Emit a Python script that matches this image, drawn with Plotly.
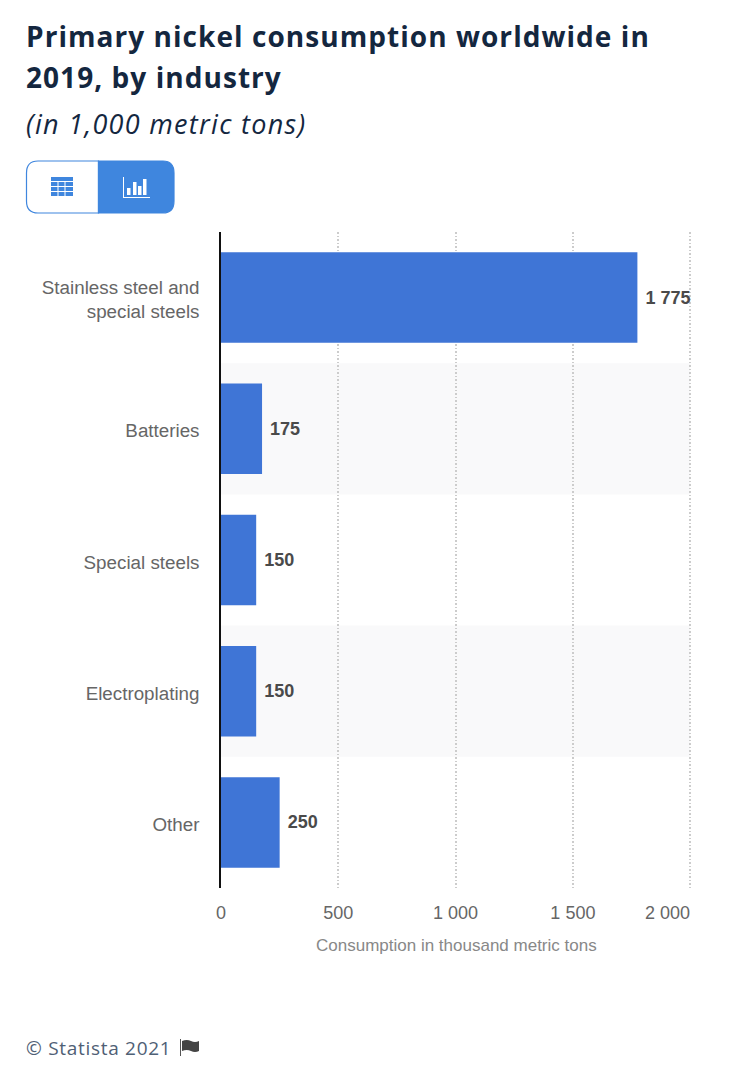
import plotly.graph_objects as go

W, H = 750, 1074
L, R, T, B = 221, 693, 232, 888

categories = ["Stainless steel and<br>special steels", "Batteries", "Special steels", "Electroplating", "Other"]
values = [1775, 175, 150, 150, 250]
x_ticks = [0, 500, 1000, 1500, 2000]
x_labels = ["0", "500", "1 000", "1 500", ""]
last_tick_label = "2 000"

BLUE = "#3f75d6"
BTN_BLUE = "#3f86de"
GREY = "#666666"

# plotly has no letter spacing option, so it is set on the svg after drawing
POST_SCRIPT = """
document.body.style.margin = '0';
var spacing = {0: 1.05, 1: 1.05, 2: 1.3, 3: 0.7};
function spaceTitles() {
  document.querySelectorAll('.annotation').forEach(function (a) {
    var s = spacing[a.getAttribute('data-index')];
    if (s) { a.querySelector('text').style.letterSpacing = s + 'px'; }
  });
}
spaceTitles();
setTimeout(spaceTitles, 100);
"""


# the page furniture is laid out in screen pixels, so convert to paper coords
def L_paper(x):
    return (x - L) / (R - L)


def T_paper(y):
    return (B - y) / (B - T)


def pth(points):
    out = []
    for cmd, *xy in points:
        s = cmd
        for i in range(0, len(xy), 2):
            s += f" {L_paper(xy[i]):.5f},{T_paper(xy[i + 1]):.5f}"
        out.append(s)
    return " ".join(out)


def rect(x0, y0, x1, y1, **kw):
    return dict(type="rect", xref="paper", yref="paper", x0=L_paper(x0), x1=L_paper(x1),
                y0=T_paper(y0), y1=T_paper(y1), line_width=0, **kw)


def text(x, y, s, size, color, family="Open Sans", anchor="left", **font):
    return dict(xref="paper", yref="paper", x=L_paper(x), y=T_paper(y), text=s, showarrow=False,
                xanchor=anchor, yanchor="middle", align="left",
                font=dict(family=family, size=size, color=color, **font))


fig = go.Figure(go.Bar(
    x=values,
    y=categories,
    orientation="h",
    width=0.69,
    marker=dict(color=BLUE, line_width=0),
    texttemplate="\u00a0%{x:,}",
    textposition="outside",
    cliponaxis=False,
    textfont=dict(family="Liberation Sans", size=18, color="#4a4a4a", weight="bold"),
))

shapes = []
# alternate row shading
for i in [1, 3]:
    shapes.append(dict(type="rect", layer="below", xref="x", yref="y", x0=0, x1=2000,
                       y0=i - 0.5, y1=i + 0.5, fillcolor="#f9f9fa", line_width=0))

# toggle buttons
shapes.append(dict(
    type="path", xref="paper", yref="paper", line=dict(color=BTN_BLUE, width=1.2), fillcolor="white",
    path=pth([("M", 98.5, 161), ("L", 38, 161), ("Q", 26.5, 161, 26.5, 173), ("L", 26.5, 201),
              ("Q", 26.5, 213, 38, 213), ("L", 98.5, 213), ("Z",)]),
))
shapes.append(dict(
    type="path", xref="paper", yref="paper", line=dict(color=BTN_BLUE, width=1.2), fillcolor=BTN_BLUE,
    path=pth([("M", 98.5, 161), ("L", 163, 161), ("Q", 174, 161, 174, 173), ("L", 174, 201),
              ("Q", 174, 213, 163, 213), ("L", 98.5, 213), ("Z",)]),
))
# table icon
shapes.append(rect(51, 177, 73, 196, fillcolor=BTN_BLUE))
for gx in [57.5, 64.5]:
    shapes.append(rect(gx, 181, gx + 1, 196, fillcolor="white"))
for gy in [181, 186, 191]:
    shapes.append(rect(51, gy, 73, gy + 1, fillcolor="white"))
# bar icon
shapes.append(rect(123, 177, 124, 198, fillcolor="white"))
shapes.append(rect(123, 197, 150, 198, fillcolor="white"))
for bx, by in [(127, 188), (133, 182), (138, 186), (143, 179)]:
    shapes.append(rect(bx, by, bx + 3.5, 195, fillcolor="white"))
# flag
shapes.append(rect(180, 1039, 181, 1056, fillcolor="#555555"))
shapes.append(dict(
    type="path", xref="paper", yref="paper", line_width=0, fillcolor="#444444",
    path=pth([("M", 182, 1041), ("Q", 187, 1039, 191, 1041), ("Q", 195, 1043, 199, 1041),
              ("L", 199, 1051), ("Q", 195, 1053, 191, 1051), ("Q", 187, 1049, 182, 1051), ("Z",)]),
))

annotations = [
    text(24, 36.5, "Primary nickel consumption worldwide in", 28, "#14273f", weight="bold"),
    text(24, 76.5, "2019, by industry", 28, "#14273f", weight="bold"),
    text(24, 123.5, "(in 1,000 metric tons)", 27, "#14273f", style="italic"),
    text(24, 1047.5, "© Statista 2021", 19, "#4f6075"),
    text(456, 945.5, "Consumption in thousand metric tons", 17, "#888888", "Liberation Sans", "center"),
    dict(xref="x", yref="paper", x=2000, y=T_paper(912.5), text=last_tick_label, showarrow=False,
         xanchor="right", yanchor="middle", xshift=2,
         font=dict(family="Liberation Sans", size=18, color=GREY)),
]

fig.update_layout(
    width=W,
    height=H,
    margin=dict(l=L, r=W - R, t=T, b=H - B, pad=0),
    paper_bgcolor="white",
    plot_bgcolor="white",
    showlegend=False,
    separators=". ",
    shapes=shapes,
    annotations=annotations,
    font=dict(family="Liberation Sans", color=GREY),
)
fig.update_xaxes(
    # a little past 2000, otherwise plotly drops the gridline at the plot edge
    range=[0, 2012],
    tickmode="array",
    tickvals=x_ticks,
    ticktext=x_labels,
    tickfont=dict(size=18, color=GREY),
    ticks="",
    ticklabelstandoff=12,
    showgrid=True,
    gridcolor="#cccccc",
    griddash="1.5px,2px",
    gridwidth=1.5,
    zeroline=False,
    showline=False,
)
fig.update_yaxes(
    type="category",
    categoryorder="array",
    categoryarray=categories,
    autorange="reversed",
    showgrid=False,
    zeroline=False,
    showline=True,
    linecolor="#111111",
    linewidth=1.5,
    ticks="",
    ticklabelstandoff=16,
    ticklabelshift=-2,
    tickfont=dict(size=18.8, color=GREY),
)

fig.write_html("out.html", config={"displayModeBar": False}, post_script=POST_SCRIPT)
